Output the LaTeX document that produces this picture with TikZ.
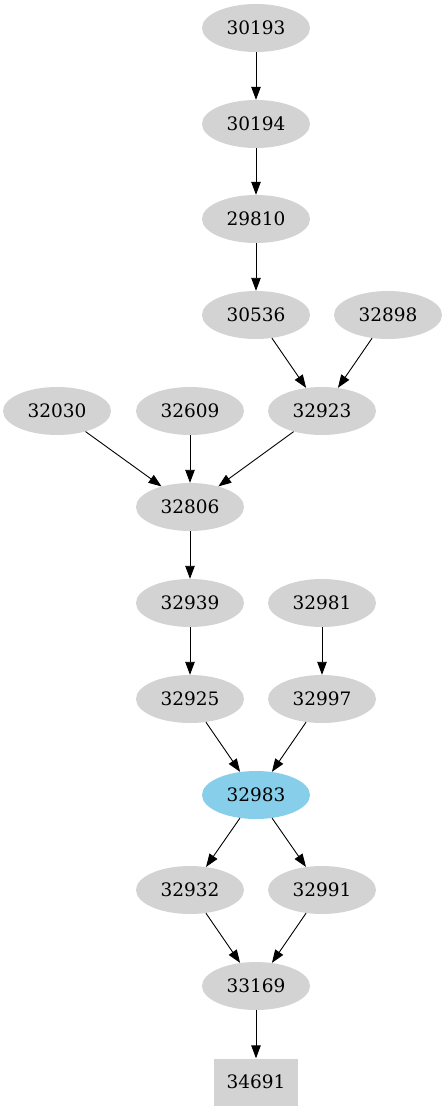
\documentclass[tikz,border=0pt]{standalone}
\usepackage{fontspec}
\setmainfont{DejaVu Serif}
\usetikzlibrary{shapes.geometric,arrows.meta}
\definecolor{nodegray}{RGB}{211,211,211}
\definecolor{skyb}{RGB}{135,206,235}
\tikzset{
  gnode/.style={ellipse,fill=nodegray,minimum width=108pt,minimum height=48pt,inner sep=0pt,font=\fontsize{18.5pt}{20pt}\selectfont},
  hnode/.style={gnode,fill=skyb},
  bnode/.style={rectangle,fill=nodegray,minimum width=84pt,minimum height=47pt,inner sep=0pt,font=\fontsize{18.5pt}{20pt}\selectfont},
  edge/.style={-{Triangle[length=13pt,width=9.5pt]},line width=0.9pt}
}
\begin{document}
\begin{tikzpicture}[x=1pt,y=-1pt]
\useasboundingbox (0,0) rectangle (447,1115);
\node[gnode] (n30193) at (256,28) {30193};
\node[gnode] (n30194) at (256,124) {30194};
\node[gnode] (n29810) at (256,219) {29810};
\node[gnode] (n30536) at (256,315) {30536};
\node[gnode] (n32898) at (388,315) {32898};
\node[gnode] (n32030) at (57,411) {32030};
\node[gnode] (n32609) at (190,411) {32609};
\node[gnode] (n32923) at (322,411) {32923};
\node[gnode] (n32806) at (190,507) {32806};
\node[gnode] (n32939) at (190,603) {32939};
\node[gnode] (n32981) at (322,603) {32981};
\node[gnode] (n32925) at (190,699) {32925};
\node[gnode] (n32997) at (322,699) {32997};
\node[hnode] (n32983) at (256,795) {32983};
\node[gnode] (n32932) at (190,890) {32932};
\node[gnode] (n32991) at (322,890) {32991};
\node[gnode] (n33169) at (256,986) {33169};
\node[bnode] (n34691) at (256,1082) {34691};
\draw[edge] (n30193) -- (n30194);
\draw[edge] (n30194) -- (n29810);
\draw[edge] (n29810) -- (n30536);
\draw[edge] (n30536) -- (n32923);
\draw[edge] (n32898) -- (n32923);
\draw[edge] (n32030) -- (n32806);
\draw[edge] (n32609) -- (n32806);
\draw[edge] (n32923) -- (n32806);
\draw[edge] (n32806) -- (n32939);
\draw[edge] (n32939) -- (n32925);
\draw[edge] (n32981) -- (n32997);
\draw[edge] (n32925) -- (n32983);
\draw[edge] (n32997) -- (n32983);
\draw[edge] (n32983) -- (n32932);
\draw[edge] (n32983) -- (n32991);
\draw[edge] (n32932) -- (n33169);
\draw[edge] (n32991) -- (n33169);
\draw[edge] (n33169) -- (n34691);
\end{tikzpicture}
\end{document}
